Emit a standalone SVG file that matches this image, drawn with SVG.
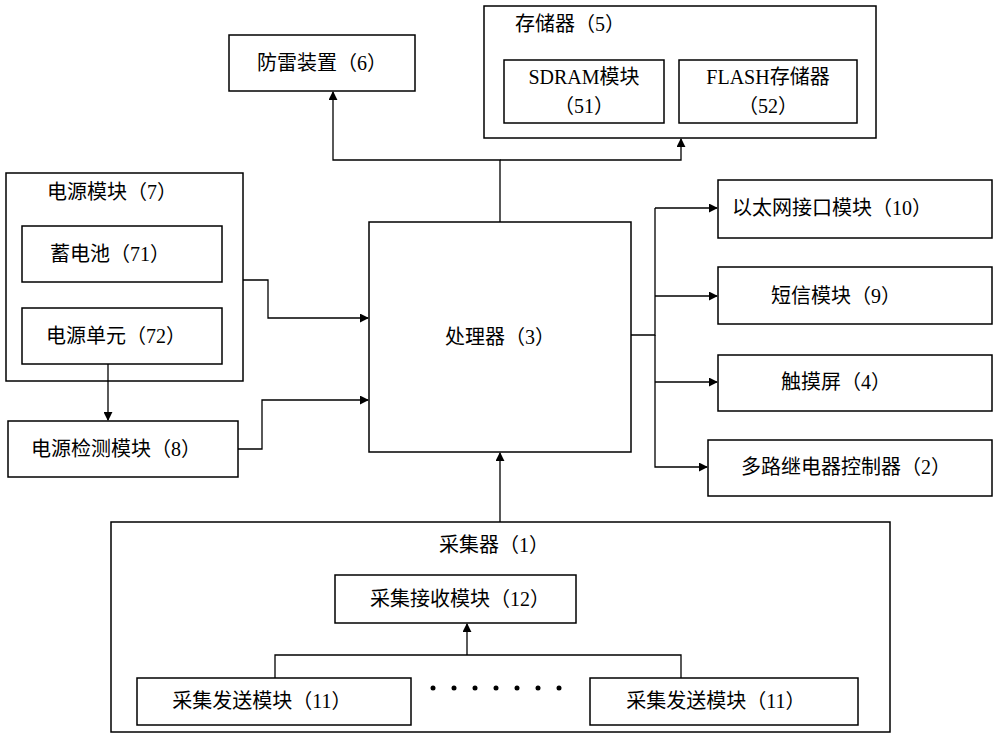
<svg xmlns="http://www.w3.org/2000/svg" width="1000" height="739" viewBox="0 0 1000 739">
<style>
rect{fill:#fff;stroke:#000;stroke-width:1.5}
text{font-family:"Liberation Serif","Noto Sans CJK SC",serif;font-size:20px;text-anchor:middle;dominant-baseline:central;fill:#000}
.c path{fill:none;stroke:#000;stroke-width:1.3}
</style>
<defs><marker id="a" viewBox="0 0 10 10" refX="9" refY="5" markerWidth="9" markerHeight="9" markerUnits="userSpaceOnUse" orient="auto"><path d="M0,0L10,5L0,10z" fill="#000"/></marker></defs>
<rect x="0" y="0" width="1000" height="739" style="stroke:none"/>
<g id="n6"><rect x="229" y="35" width="186" height="56"/><text x="322" y="63">防雷装置（6）</text></g>
<g id="n5"><rect x="484" y="6" width="392" height="132"/><text x="570" y="24">存储器（5）</text>
<g id="n51"><rect x="504" y="60" width="160" height="63"/><text x="584" y="77">SDRAM模块</text><text x="584" y="106">（51）</text></g>
<g id="n52"><rect x="679" y="60" width="178" height="63"/><text x="768" y="77">FLASH存储器</text><text x="768" y="106">（52）</text></g></g>
<g id="n3"><rect x="369" y="222" width="262" height="230"/><text x="500" y="337">处理器（3）</text></g>
<g id="n7"><rect x="6" y="173" width="237" height="208"/><text x="112" y="192">电源模块（7）</text>
<g id="n71"><rect x="22" y="226" width="200" height="56"/><text x="110" y="254">蓄电池（71）</text></g>
<g id="n72"><rect x="22" y="308" width="200" height="56"/><text x="116" y="336">电源单元（72）</text></g></g>
<g id="n8"><rect x="8" y="421" width="230" height="56"/><text x="116" y="449">电源检测模块（8）</text></g>
<g id="n10"><rect x="718" y="180" width="274" height="58"/><text x="832" y="208">以太网接口模块（10）</text></g>
<g id="n9"><rect x="718" y="267" width="274" height="57"/><text x="836" y="296">短信模块（9）</text></g>
<g id="n4"><rect x="718" y="355" width="274" height="56"/><text x="836" y="382">触摸屏（4）</text></g>
<g id="n2"><rect x="708" y="440" width="284" height="56"/><text x="846" y="467">多路继电器控制器（2）</text></g>
<g id="n1"><rect x="111" y="522" width="779" height="210"/><text x="494" y="545">采集器（1）</text>
<g id="n12"><rect x="335" y="575" width="241" height="48"/><text x="460" y="599">采集接收模块（12）</text></g>
<g id="n11a"><rect x="137" y="678" width="274" height="47"/><text x="262" y="701">采集发送模块（11）</text></g>
<g id="n11b"><rect x="590" y="678" width="268" height="47"/><text x="716" y="701">采集发送模块（11）</text></g>
<g fill="#000"><circle cx="433" cy="688" r="2.5"/><circle cx="454" cy="688" r="2.5"/><circle cx="475" cy="688" r="2.5"/><circle cx="496" cy="688" r="2.5"/><circle cx="517" cy="688" r="2.5"/><circle cx="538" cy="688" r="2.5"/><circle cx="559" cy="688" r="2.5"/></g></g>
<g class="c">
<path d="M500,222V160H333V92" marker-end="url(#a)"/>
<path d="M500,160H681V139" marker-end="url(#a)"/>
<path d="M243,280H268V318H368" marker-end="url(#a)"/>
<path d="M238,449H262V400H368" marker-end="url(#a)"/>
<path d="M108,364V420" marker-end="url(#a)"/>
<path d="M631,335H655V208"/>
<path d="M655,208H717" marker-end="url(#a)"/>
<path d="M655,296H717" marker-end="url(#a)"/>
<path d="M655,335V467H707" marker-end="url(#a)"/>
<path d="M655,382H717" marker-end="url(#a)"/>
<path d="M500,522V453" marker-end="url(#a)"/>
<path d="M467,655V624" marker-end="url(#a)"/>
<path d="M275,678V655H681V678"/>
</g>
</svg>
